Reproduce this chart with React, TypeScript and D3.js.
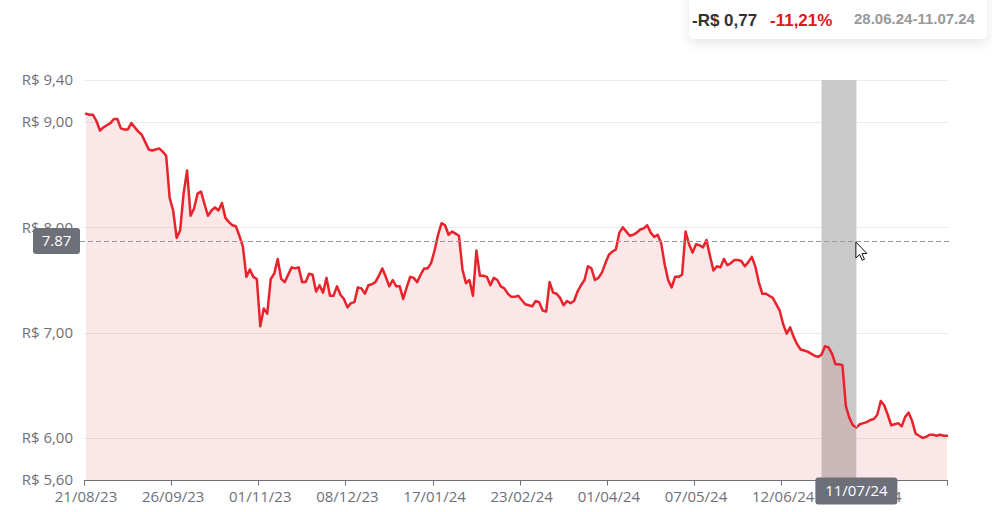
import React from 'react';
import * as d3 from 'd3';

// Daily closing prices (R$), 21/08/23 .. mid 08/24
const prices: number[] = [
  9.08, 9.07, 9.07, 9.01, 8.92, 8.95, 8.97, 8.99, 9.03, 9.03,
  8.94, 8.93, 8.93, 8.99, 8.95, 8.91, 8.88, 8.81, 8.74, 8.73,
  8.74, 8.75, 8.72, 8.68, 8.28, 8.16, 7.90, 7.97, 8.32, 8.54,
  8.11, 8.18, 8.32, 8.34, 8.22, 8.11, 8.16, 8.19, 8.16, 8.23,
  8.09, 8.05, 8.02, 8.01, 7.92, 7.82, 7.53, 7.60, 7.53, 7.51,
  7.06, 7.23, 7.18, 7.51, 7.56, 7.70, 7.51, 7.48, 7.55, 7.62,
  7.61, 7.62, 7.48, 7.48, 7.56, 7.55, 7.39, 7.45, 7.38, 7.52,
  7.35, 7.35, 7.44, 7.36, 7.32, 7.24, 7.28, 7.29, 7.43, 7.42,
  7.37, 7.45, 7.46, 7.48, 7.54, 7.61, 7.53, 7.44, 7.50, 7.44,
  7.44, 7.32, 7.43, 7.53, 7.52, 7.48, 7.55, 7.61, 7.61, 7.66,
  7.78, 7.93, 8.04, 8.02, 7.93, 7.96, 7.94, 7.92, 7.60, 7.47,
  7.50, 7.35, 7.78, 7.54, 7.54, 7.53, 7.45, 7.52, 7.50, 7.44,
  7.42, 7.37, 7.34, 7.34, 7.35, 7.31, 7.27, 7.26, 7.25, 7.30,
  7.29, 7.21, 7.20, 7.48, 7.38, 7.37, 7.33, 7.26, 7.30, 7.28,
  7.30, 7.39, 7.45, 7.50, 7.63, 7.61, 7.50, 7.52, 7.57, 7.66,
  7.74, 7.77, 7.79, 7.95, 8.00, 7.96, 7.92, 7.93, 7.95, 7.98,
  7.99, 8.02, 7.95, 7.91, 7.93, 7.85, 7.65, 7.50, 7.43, 7.53,
  7.53, 7.55, 7.96, 7.84, 7.76, 7.84, 7.83, 7.81, 7.88, 7.73,
  7.59, 7.63, 7.62, 7.70, 7.64, 7.66, 7.69, 7.69, 7.68, 7.63,
  7.67, 7.72, 7.63, 7.48, 7.37, 7.37, 7.35, 7.33, 7.27, 7.21,
  7.08, 6.99, 7.05, 6.96, 6.89, 6.84, 6.83, 6.82, 6.80, 6.78,
  6.77, 6.79, 6.87, 6.86, 6.80, 6.70, 6.70, 6.69, 6.30, 6.19,
  6.12, 6.10, 6.13, 6.14, 6.15, 6.17, 6.18, 6.22, 6.35, 6.31,
  6.22, 6.12, 6.13, 6.14, 6.11, 6.20, 6.24, 6.16, 6.04, 6.02,
  6.00, 6.01, 6.03, 6.03, 6.02, 6.03, 6.02, 6.02,
];

const tickLabels: string[] = [
  '21/08/23', '26/09/23', '01/11/23', '08/12/23', '17/01/24',
  '23/02/24', '01/04/24', '07/05/24', '12/06/24', '18/07/24',
];
const TICK_EVERY = 25;

const yTickValues: number[] = [5.6, 6, 7, 8, 9, 9.4];
const gridValues: number[] = [6, 7, 8, 9, 9.4];

// hover / selection state
const hoverIndex = 221;
const hoverValue = 7.87;
const hoverDateLabel = '11/07/24';
const selStartIndex = 211;
const selEndIndex = 221;
const changeAbsLabel = '-R$ 0,77';
const changePctLabel = '-11,21%';
const periodLabel = '28.06.24-11.07.24';

const W = 992;
const H = 512;
const AXIS = '#6e7079';
const RED = '#e8232b';
const LABEL_FONT = '"Open Sans", "Noto Sans", sans-serif';

export default function App() {
  const x = d3.scaleLinear().domain([0, prices.length - 1]).range([86, 947]);
  const y = d3.scaleLinear().domain([5.6, 9.4]).range([480, 80]);

  const area = d3
    .area<number>()
    .x((_, i) => x(i))
    .y0(y(5.6))
    .y1((d) => y(d));
  const line = d3
    .line<number>()
    .x((_, i) => x(i))
    .y((d) => y(d));

  const fmtY = (v: number) => 'R$ ' + v.toFixed(2).replace('.', ',');
  const axisY = Math.round(y(5.6)) + 0.5;
  const hx = x(hoverIndex);
  const hy = y(hoverValue);

  return (
    <svg
      width={W}
      height={H}
      style={{ position: 'absolute', left: 0, top: 0, background: '#fff' }}
    >
      <defs>
        <filter id="shadow" x="-10%" y="-50%" width="120%" height="220%">
          <feDropShadow dx="0" dy="4" stdDeviation="6" floodColor="#000" floodOpacity="0.10" />
        </filter>
      </defs>

      {/* grid */}
      {gridValues.map((v) => (
        <line
          key={'g' + v}
          x1={84}
          x2={948}
          y1={Math.round(y(v)) + 0.5}
          y2={Math.round(y(v)) + 0.5}
          stroke="#ebebeb"
          strokeWidth={1}
        />
      ))}

      {/* selection band */}
      <rect
        x={x(selStartIndex)}
        y={y(9.4)}
        width={x(selEndIndex) - x(selStartIndex)}
        height={y(5.6) - y(9.4)}
        fill="#c9c9c9"
      />

      {/* area + line */}
      <path d={area(prices) || ''} fill={RED} fillOpacity={0.11} />
      <path
        d={line(prices) || ''}
        fill="none"
        stroke={RED}
        strokeWidth={2.5}
        strokeLinejoin="round"
        strokeLinecap="round"
      />

      {/* y labels */}
      {yTickValues.map((v) => (
        <text
          key={'y' + v}
          x={73}
          y={y(v)}
          dy="0.35em"
          textAnchor="end"
          fill={AXIS}
          fontFamily={LABEL_FONT}
          fontSize={15}
        >
          {fmtY(v)}
        </text>
      ))}

      {/* x axis */}
      <line x1={84} x2={948} y1={axisY} y2={axisY} stroke={AXIS} strokeWidth={1} />
      {tickLabels.map((lab, k) => {
        const px = x(k * TICK_EVERY);
        const tx = Math.round(px - 2) + 0.5;
        return (
          <g key={'x' + k}>
            <line x1={tx} x2={tx} y1={axisY} y2={axisY + 5} stroke={AXIS} />
            <text
              x={px}
              y={501.5}
              textAnchor="middle"
              fill={AXIS}
              fontFamily={LABEL_FONT}
              fontSize={15}
            >
              {lab}
            </text>
          </g>
        );
      })}
      <line
        x1={Math.round(x(prices.length - 1)) + 0.5}
        x2={Math.round(x(prices.length - 1)) + 0.5}
        y1={axisY}
        y2={axisY + 5}
        stroke={AXIS}
      />

      {/* crosshair */}
      <line
        x1={hx}
        x2={hx}
        y1={y(9.4)}
        y2={y(5.6)}
        stroke="#e0e0e8"
        strokeDasharray="4,3"
        strokeWidth={1}
      />
      <line
        x1={80}
        x2={949}
        y1={Math.round(hy) + 0.5}
        y2={Math.round(hy) + 0.5}
        stroke="#999"
        strokeDasharray="5,3"
        strokeWidth={1}
      />

      {/* y crosshair label */}
      <g transform={`translate(${56.5},${hy})`}>
        <rect x={-23.5} y={-13} width={47} height={26} rx={3} fill={AXIS} />
        <text
          x={0}
          y={0}
          dy="0.35em"
          textAnchor="middle"
          fill="#fff"
          fontFamily={LABEL_FONT}
          fontSize={15}
        >
          {hoverValue.toFixed(2)}
        </text>
      </g>

      {/* x crosshair label */}
      <g transform={`translate(${hx},${491})`}>
        <rect x={-41} y={-13.5} width={82} height={27} rx={3} fill={AXIS} />
        <text
          x={0}
          y={0}
          dy="0.35em"
          textAnchor="middle"
          fill="#fff"
          fontFamily={LABEL_FONT}
          fontSize={15}
        >
          {hoverDateLabel}
        </text>
      </g>

      {/* mouse cursor */}
      <path
        transform={`translate(${hx - 0.5},${hy + 1})`}
        d="M0,0 L0,16 L3.8,12.4 L6.4,18.2 L8.6,17.2 L6.1,11.6 L11,11.4 Z"
        fill="#fff"
        stroke="#111"
        strokeWidth={1}
        strokeLinejoin="round"
      />

      {/* top tooltip */}
      <rect x={689} y={-8} width={298} height={47} rx={5} fill="#fff" filter="url(#shadow)" />
      <text
        x={692}
        y={25.5}
        fill="#333"
        fontFamily='"Liberation Sans", Arial, sans-serif'
        fontWeight="bold"
        fontSize={17}
      >
        {changeAbsLabel}
      </text>
      <text
        x={770}
        y={25.5}
        fill="#e0141e"
        fontFamily='"Liberation Sans", Arial, sans-serif'
        fontWeight="bold"
        fontSize={17}
      >
        {changePctLabel}
      </text>
      <text
        x={854}
        y={24}
        fill="#999"
        fontFamily='"Liberation Sans", Arial, sans-serif'
        fontWeight="bold"
        fontSize={15}
      >
        {periodLabel}
      </text>
    </svg>
  );
}
